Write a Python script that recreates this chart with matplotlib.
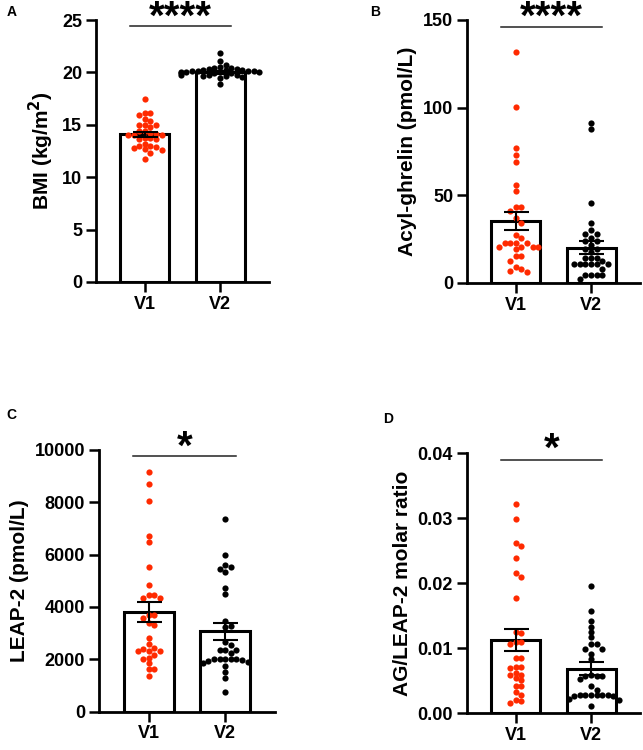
import numpy as np
import matplotlib
matplotlib.use('Agg')
import matplotlib.pyplot as plt

plt.rcParams['font.family'] = ['Liberation Sans', 'DejaVu Sans']
plt.rcParams['font.weight'] = 'bold'

groups = ['V1', 'V2']
red = '#FF2A00'

# panel A - BMI
bmi_v1 = [17.5, 16.1, 16.1, 15.9, 15.6, 15.4, 15.0, 15.0, 15.0, 14.8, 14.4, 14.4, 14.2, 14.1, 14.0,
          14.0, 14.0, 13.7, 13.7, 13.6, 13.6, 13.2, 13.0, 13.0, 12.9, 12.8, 12.7, 12.6, 12.3, 11.7]
bmi_v2 = [21.9, 21.1, 20.7, 20.5, 20.4, 20.4, 20.3, 20.3, 20.2, 20.2, 20.2, 20.1, 20.1, 20.1, 20.1,
          20.0, 20.0, 20.0, 20.0, 19.9, 19.9, 19.9, 19.8, 19.8, 19.8, 19.7, 19.7, 19.6, 19.5, 18.9]
bmi_mean = [14.1, 20.0]
bmi_sem = [0.25, 0.12]

# panel B - acyl-ghrelin
ag_v1 = [131.9, 100.5, 76.7, 72.9, 69.1, 55.6, 52.5, 43.2, 43.2, 41.3, 37.3, 34.4, 27.4, 25.9, 23.0,
         23.0, 23.0, 23.0, 20.7, 20.7, 20.7, 20.7, 19.2, 15.2, 15.2, 12.7, 9.0, 7.9, 6.9, 6.2]
ag_v2 = [91.4, 87.8, 45.5, 34.4, 30.2, 27.7, 27.7, 25.4, 23.9, 23.9, 21.6, 19.3, 19.3, 17.7, 14.1,
         14.1, 14.1, 12.6, 10.7, 10.7, 10.7, 10.7, 10.7, 10.7, 7.8, 4.7, 4.7, 4.7, 4.7, 2.1]
ag_mean = [35.4, 20.2]
ag_sem = [5.3, 3.9]

# panel C - LEAP-2
leap_v1 = [9177, 8696, 8063, 6696, 6494, 5532, 4847, 4468, 4468, 4322, 4322, 3707, 3707, 3570, 3392,
           3327, 2810, 2567, 2430, 2404, 2317, 2317, 2317, 2150, 2062, 1998, 1861, 1645, 1645, 1352]
leap_v2 = [7380, 5986, 5594, 5545, 5454, 5340, 4709, 4493, 3456, 3289, 3251, 2658, 2530, 2366, 2366,
           2366, 2252, 2024, 2024, 2024, 2024, 2024, 1980, 1940, 1900, 1861, 1732, 1519, 1291, 760]
leap_mean = [3800, 3060]
leap_sem = [390, 310]

# panel D - AG/LEAP-2 ratio
ratio_v1 = [0.0321, 0.0299, 0.0261, 0.0257, 0.0238, 0.0215, 0.0209, 0.0177, 0.0124, 0.0123, 0.0110,
            0.0109, 0.0106, 0.0085, 0.0084, 0.0071, 0.0071, 0.0069, 0.0062, 0.0059, 0.0058, 0.0054,
            0.0051, 0.0042, 0.0041, 0.0033, 0.0027, 0.0020, 0.0019, 0.0015]
ratio_v2 = [0.0196, 0.0157, 0.0141, 0.0133, 0.0125, 0.0117, 0.0106, 0.0106, 0.0099, 0.0099, 0.0091,
            0.0083, 0.0058, 0.0057, 0.0057, 0.0057, 0.0053, 0.0042, 0.0035, 0.0027, 0.0027, 0.0027,
            0.0027, 0.0027, 0.0027, 0.0026, 0.0026, 0.0021, 0.0020, 0.0011]
ratio_mean = [0.0112, 0.0068]
ratio_sem = [0.0017, 0.0010]


def swarm_offsets(vals, ylim, h_px, px_per_x, diam=5.2, step=5.6):
    # simple beeswarm: put each point at the closest free slot
    vals = np.asarray(vals, dtype=float)
    ypx = (vals - ylim[0]) / (ylim[1] - ylim[0]) * h_px
    order = np.argsort(-vals)
    placed = []
    offs = np.zeros(len(vals))
    for i in order:
        for k in [0, 1, -1, 2, -2, 3, -3, 4, -4, 5, -5, 6, -6, 7, -7]:
            x = k * step
            if all((x - px) ** 2 + (ypx[i] - py) ** 2 >= diam ** 2 for px, py in placed):
                break
        placed.append((x, ypx[i]))
        offs[i] = x / px_per_x
    return offs


def panel(rect, v1, v2, mean, sem, ylim, yticks, ylabel, stars, star_y, line_y, fmt=None):
    ax = fig.add_axes(rect)
    ax.bar([0, 1], mean, width=0.65, color='white', edgecolor='black', linewidth=2.2, zorder=1)
    h_px = rect[3] * fig.get_figheight() * fig.dpi
    px_per_x = rect[2] * fig.get_figwidth() * fig.dpi / 2.3
    for pos, vals, col in [(0, v1, red), (1, v2, 'black')]:
        offs = swarm_offsets(vals, ylim, h_px, px_per_x)
        ax.scatter(pos + offs, vals, s=20, color=col, linewidths=0, zorder=3, clip_on=False)
    ax.errorbar([0, 1], mean, yerr=sem, fmt='none', ecolor='black', elinewidth=1.5,
                capsize=9, capthick=1.5, zorder=4)
    ax.set_xlim(-0.65, 1.65)
    ax.set_ylim(*ylim)
    ax.set_yticks(yticks)
    if fmt:
        ax.set_yticklabels([fmt % t for t in yticks])
    ax.set_xticks([0, 1])
    ax.set_xticklabels(groups)
    for s in ['top', 'right']:
        ax.spines[s].set_visible(False)
    for s in ['left', 'bottom']:
        ax.spines[s].set_linewidth(2.0)
    ax.tick_params(axis='both', width=1.8, length=7, labelsize=13)
    ax.tick_params(axis='x', pad=3)
    ax.tick_params(axis='y', pad=3)
    ax.set_ylabel(ylabel, fontsize=15, fontweight='bold', labelpad=4)
    ax.plot([-0.2, 1.14], [line_y, line_y], color='#222222', linewidth=1.1, clip_on=False)
    ax.text(0.47, star_y, stars, ha='center', va='center', fontsize=29, fontweight='bold',
            clip_on=False)
    return ax


fig = plt.figure(figsize=(6.43, 7.5), dpi=100)

panel([0.1493, 0.624, 0.269, 0.3493], bmi_v1, bmi_v2, bmi_mean, bmi_sem, (0, 25),
      [0, 5, 10, 15, 20, 25], 'BMI (kg/m$^\\mathbf{2}$)', '****', 25.2, 24.4)
panel([0.7263, 0.6227, 0.269, 0.3507], ag_v1, ag_v2, ag_mean, ag_sem, (0, 150),
      [0, 50, 100, 150], 'Acyl-ghrelin (pmol/L)', '****', 151, 146)
panel([0.154, 0.0513, 0.2737, 0.3487], leap_v1, leap_v2, leap_mean, leap_sem, (0, 10000),
      [0, 2000, 4000, 6000, 8000, 10000], 'LEAP-2 (pmol/L)', '*', 10100, 9770)
panel([0.7263, 0.0493, 0.269, 0.3467], ratio_v1, ratio_v2, ratio_mean, ratio_sem, (0, 0.04),
      [0, 0.01, 0.02, 0.03, 0.04], 'AG/LEAP-2 molar ratio', '*', 0.0405, 0.0389, fmt='%.2f')

fig.text(0.011, 0.984, 'A', fontsize=10, fontweight='bold', va='center')
fig.text(0.575, 0.984, 'B', fontsize=10, fontweight='bold', va='center')
fig.text(0.010, 0.447, 'C', fontsize=10, fontweight='bold', va='center')
fig.text(0.596, 0.441, 'D', fontsize=10, fontweight='bold', va='center')

fig.savefig('out.png', dpi=100)
